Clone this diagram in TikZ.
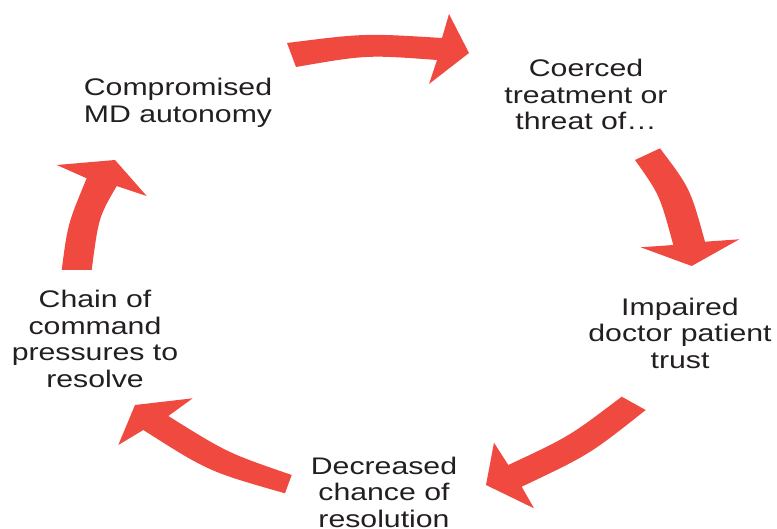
\documentclass[tikz,border=0pt]{standalone}
\usepackage{fontspec}
\setmainfont{Liberation Sans}[FakeStretch=1.26]
\definecolor{arrowred}{RGB}{239,73,64}
\definecolor{textdark}{RGB}{35,31,32}
\begin{document}
\begin{tikzpicture}[x=1pt,y=-1pt,
  label/.style={align=center,anchor=north,inner sep=0pt,text=textdark,
    font=\fontsize{24}{26.7}\selectfont},
  bigarrow/.style={fill=arrowred,draw=none}]
\useasboundingbox (0,0) rectangle (777,529);
% texts
\node[label] (mdauto) at (178,78) {Compromised\\MD autonomy};
\node[label] (coerced) at (586,59) {Coerced\\treatment or\\threat of\dots};
\node[label] (trust) at (680,297.5) {Impaired\\doctor patient\\trust};
\node[label] (resol) at (384,456.5) {Decreased\\chance of\\resolution};
\node[label] (chain) at (95,290) {Chain of\\command\\pressures to\\resolve};
% arrow 1 (top)
\path[bigarrow] (287,43) .. controls (364.5,33.2) .. (442,38) -- (449,14) -- (469,53)
  -- (429,84) -- (437,60) .. controls (366.5,54.8) .. (296,67) -- cycle;
% arrow 2 (right)
\path[bigarrow] (660,148.3) .. controls (690.2,188.3) .. (705,241.7) -- (739.3,239.3)
  -- (691.7,266) -- (640.7,247.3) -- (673.3,245) .. controls (659.7,194.8) .. (635,160) -- cycle;
% arrow 3 (bottom right)
\path[bigarrow] (645.7,410) .. controls (589.4,454.6) .. (521.7,486.7) -- (534,508.3)
  -- (486,485) -- (494,442.7) -- (508.3,465) .. controls (569.4,436.4) .. (621.7,396.7) -- cycle;
% arrow 4 (bottom left)
\path[bigarrow] (285,493.3) .. controls (208.6,471.5) .. (143.3,430) -- (118.3,445)
  -- (135,405) -- (192.7,398.3) -- (168.3,416) .. controls (227.3,452.8) .. (291.7,475) -- cycle;
% arrow 5 (left)
\path[bigarrow] (61.7,270) .. controls (67.7,224) .. (86.7,178.3) -- (56.7,165)
  -- (115,160) -- (146.7,196) -- (116.7,186) .. controls (98.6,217.3) .. (91.7,270) -- cycle;
\end{tikzpicture}
\end{document}
